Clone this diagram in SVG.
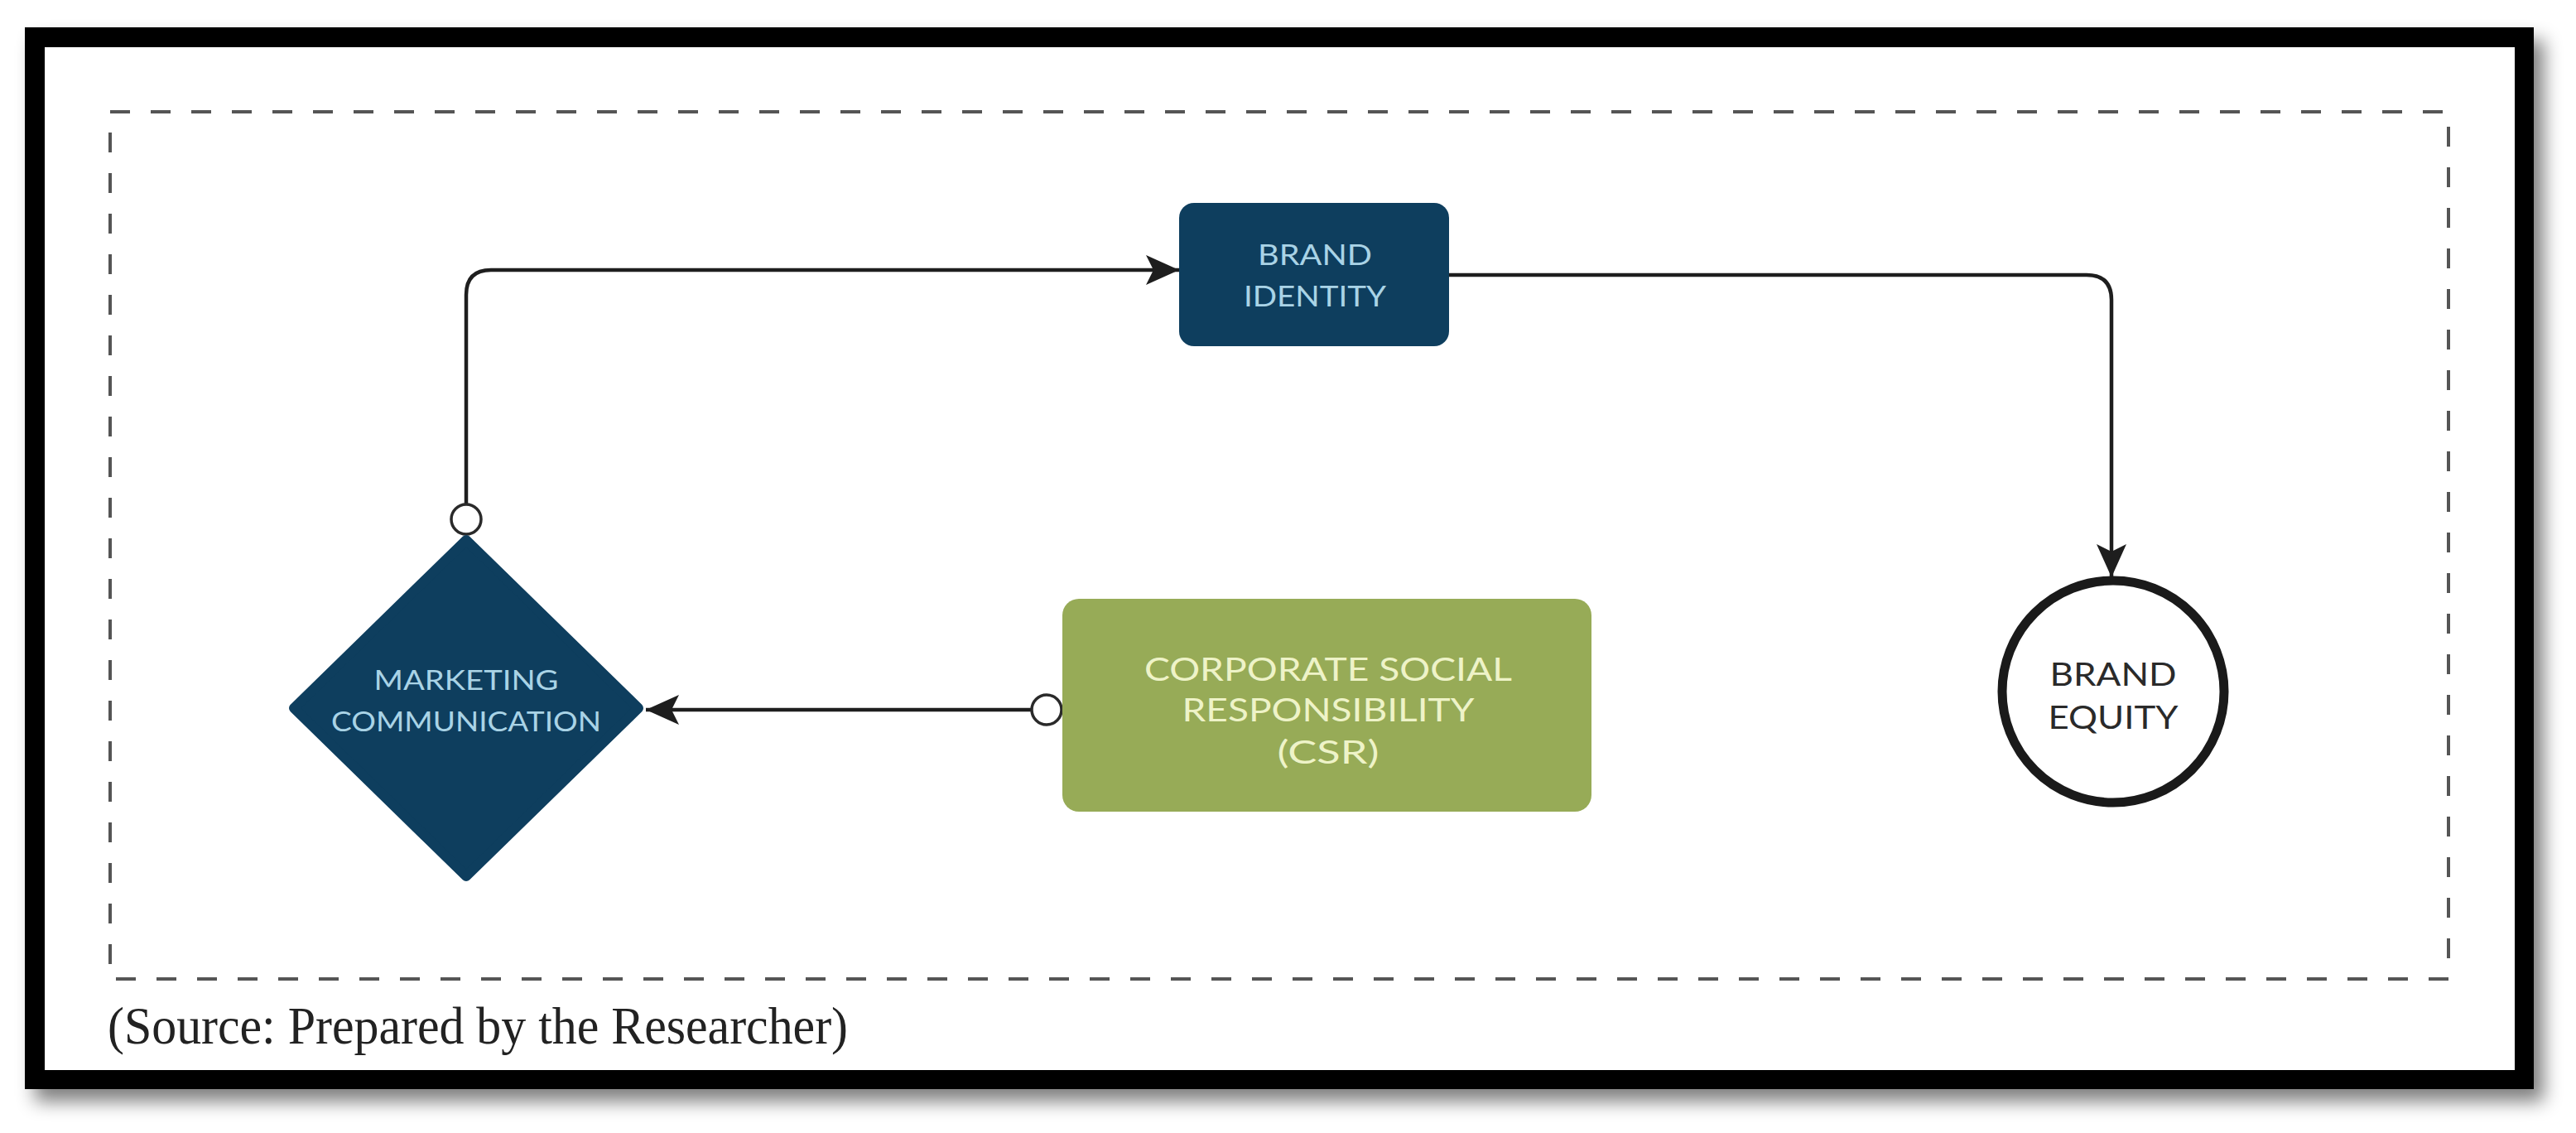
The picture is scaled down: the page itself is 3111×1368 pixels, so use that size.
<svg xmlns="http://www.w3.org/2000/svg" width="3111" height="1368" viewBox="0 0 3111 1368">
<defs>
<filter id="sh" x="-5%" y="-5%" width="110%" height="115%"><feGaussianBlur stdDeviation="11"/></filter>
<marker id="arr" markerUnits="userSpaceOnUse" markerWidth="44" markerHeight="40" refX="40" refY="20" orient="auto" viewBox="0 0 44 40"><path d="M0,2 L40,20 L0,38 L9,20 z" fill="#1e1e1e"/></marker>
</defs>
<style>
.lbl{font-family:Lato,"Open Sans",sans-serif;text-anchor:middle;font-weight:400}
.dk{fill:#a9d3e6}
.gr{fill:#eef3c8}
.bk{fill:#2a2a2a}
.conn{fill:none;stroke:#1e1e1e;stroke-width:4.5}
.port{fill:#fff;stroke:#2a2a2a;stroke-width:3.5}
</style>
<rect width="3111" height="1368" fill="#fff"/>
<g id="frame">
<rect x="42" y="48" width="3030" height="1282" fill="#000" opacity="0.5" filter="url(#sh)"/>
<rect x="30" y="33" width="3030" height="1282" fill="#000"/>
<rect x="54" y="57" width="2983" height="1235" fill="#fff"/>
</g>
<rect id="boundary" x="133" y="135" width="2824" height="1047" fill="none" stroke="#555" stroke-width="4" stroke-dasharray="24 25"/>
<g id="connectors">
<path class="conn" d="M563,609 V356 Q563,326 593,326 H1424" marker-end="url(#arr)"/>
<path class="conn" d="M1750,332 H2520 Q2550,332 2550,362 V697" marker-end="url(#arr)"/>
<path class="conn" d="M1246,857 H780" marker-end="url(#arr)"/>
<circle class="port" cx="563" cy="627" r="18"/>
<circle class="port" cx="1264" cy="857" r="18"/>
</g>
<g id="brand-identity">
<rect x="1424" y="245" width="326" height="173" rx="18" fill="#0e3e5e"/>
<text class="lbl dk" x="1588" y="320" font-size="35" textLength="138" lengthAdjust="spacingAndGlyphs">BRAND</text>
<text class="lbl dk" x="1588" y="370" font-size="35" textLength="172" lengthAdjust="spacingAndGlyphs">IDENTITY</text>
</g>
<g id="marketing-communication">
<polygon points="563,652 771,855 563,1058 355,855" fill="#0e3e5e" stroke="#0e3e5e" stroke-width="12" stroke-linejoin="round"/>
<text class="lbl dk" x="563" y="833" font-size="32" textLength="223" lengthAdjust="spacingAndGlyphs">MARKETING</text>
<text class="lbl dk" x="563" y="883" font-size="32" textLength="326" lengthAdjust="spacingAndGlyphs">COMMUNICATION</text>
</g>
<g id="csr">
<rect x="1283" y="723" width="639" height="257" rx="20" fill="#97ab57"/>
<text class="lbl gr" x="1604" y="822" font-size="38" textLength="444" lengthAdjust="spacingAndGlyphs">CORPORATE SOCIAL</text>
<text class="lbl gr" x="1604" y="871" font-size="38" textLength="353" lengthAdjust="spacingAndGlyphs">RESPONSIBILITY</text>
<text class="lbl gr" x="1604" y="922" font-size="38" textLength="123" lengthAdjust="spacingAndGlyphs">(CSR)</text>
</g>
<g id="brand-equity">
<circle cx="2552" cy="835" r="134" fill="#fff" stroke="#1a1a1a" stroke-width="11"/>
<text class="lbl bk" x="2552" y="828" font-size="38" textLength="153" lengthAdjust="spacingAndGlyphs">BRAND</text>
<text class="lbl bk" x="2552" y="880" font-size="38" textLength="157" lengthAdjust="spacingAndGlyphs">EQUITY</text>
</g>
<text x="130" y="1260" font-family="'Liberation Serif',serif" font-size="64" fill="#222" textLength="894" lengthAdjust="spacingAndGlyphs">(Source: Prepared by the Researcher)</text>
</svg>
